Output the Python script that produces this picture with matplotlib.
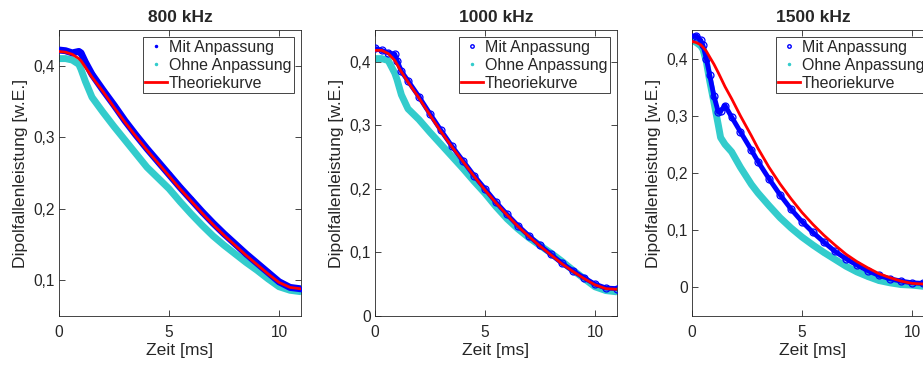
import matplotlib
matplotlib.use("Agg")
import matplotlib.pyplot as plt
from matplotlib.lines import Line2D
from matplotlib.ticker import FuncFormatter

plt.rcParams.update({
    "font.family": ["Liberation Sans", "DejaVu Sans"],
    "font.size": 12,
    "text.color": "#262626",
    "axes.labelcolor": "#262626",
    "xtick.color": "#262626",
    "ytick.color": "#262626",
})

# --- data (t in ms, power in arb. units) ---
titles = ["800 kHz", "1000 kHz", "1500 kHz"]

t_800 = [0, 0.3, 0.6, 0.9, 1.0, 1.2, 1.5, 2, 2.5, 3, 3.5, 4, 4.5, 5, 5.5, 6, 6.5, 7, 7.5, 8, 8.5, 9, 9.5, 10, 10.5, 11]
mit_800 = [0.422, 0.421, 0.418, 0.420, 0.418, 0.405, 0.388, 0.366, 0.345, 0.323, 0.303, 0.284, 0.266, 0.248, 0.230, 0.213, 0.196, 0.180, 0.165, 0.151, 0.137, 0.124, 0.111, 0.098, 0.090, 0.088]
ohne_800 = [0.410, 0.410, 0.408, 0.402, 0.395, 0.378, 0.356, 0.335, 0.315, 0.296, 0.277, 0.258, 0.243, 0.228, 0.210, 0.193, 0.177, 0.162, 0.149, 0.137, 0.125, 0.114, 0.102, 0.091, 0.086, 0.084]
theo_800 = [0.420, 0.419, 0.416, 0.410, 0.407, 0.398, 0.384, 0.364, 0.342, 0.321, 0.301, 0.282, 0.264, 0.246, 0.228, 0.211, 0.194, 0.178, 0.163, 0.149, 0.135, 0.122, 0.109, 0.097, 0.090, 0.088]

t_1000 = [0, 0.3, 0.6, 0.9, 1.0, 1.2, 1.5, 2, 2.5, 3, 3.5, 4, 4.5, 5, 5.5, 6, 6.5, 7, 7.5, 8, 8.5, 9, 9.5, 10, 10.5, 11]
mit_1000 = [0.421, 0.418, 0.414, 0.412, 0.402, 0.385, 0.370, 0.345, 0.318, 0.292, 0.267, 0.244, 0.221, 0.200, 0.179, 0.160, 0.142, 0.126, 0.111, 0.097, 0.083, 0.071, 0.060, 0.050, 0.044, 0.043]
ohne_1000 = [0.405, 0.405, 0.402, 0.382, 0.372, 0.348, 0.326, 0.309, 0.289, 0.270, 0.251, 0.232, 0.212, 0.193, 0.172, 0.153, 0.137, 0.123, 0.111, 0.099, 0.086, 0.072, 0.059, 0.046, 0.040, 0.038]
theo_1000 = [0.418, 0.418, 0.413, 0.402, 0.396, 0.384, 0.368, 0.343, 0.316, 0.290, 0.266, 0.243, 0.220, 0.198, 0.178, 0.159, 0.141, 0.125, 0.110, 0.096, 0.082, 0.070, 0.059, 0.049, 0.043, 0.042]

t_1500 = [0, 0.2, 0.4, 0.5, 0.65, 0.8, 1.0, 1.2, 1.3, 1.5, 1.8, 2.2, 2.7, 3, 3.5, 4, 4.5, 5, 5.5, 6, 6.5, 7, 7.5, 8, 8.5, 9, 9.5, 10, 10.5, 11]
mit_1500 = [0.438, 0.440, 0.432, 0.423, 0.400, 0.372, 0.334, 0.306, 0.308, 0.318, 0.298, 0.272, 0.240, 0.220, 0.190, 0.162, 0.137, 0.115, 0.096, 0.079, 0.063, 0.050, 0.039, 0.029, 0.021, 0.015, 0.011, 0.008, 0.007, 0.007]
ohne_1500 = [0.432, 0.428, 0.422, 0.416, 0.395, 0.362, 0.323, 0.283, 0.262, 0.250, 0.237, 0.210, 0.180, 0.165, 0.143, 0.122, 0.104, 0.088, 0.074, 0.061, 0.049, 0.037, 0.027, 0.019, 0.012, 0.008, 0.005, 0.004, 0.002, 0.001]
theo_1500 = [0.430, 0.428, 0.424, 0.420, 0.413, 0.403, 0.390, 0.375, 0.367, 0.351, 0.330, 0.300, 0.265, 0.243, 0.210, 0.181, 0.155, 0.131, 0.110, 0.091, 0.074, 0.058, 0.045, 0.034, 0.024, 0.017, 0.011, 0.007, 0.006, 0.006]

series = [
    (t_800, mit_800, ohne_800, theo_800, "."),
    (t_1000, mit_1000, ohne_1000, theo_1000, "o"),
    (t_1500, mit_1500, ohne_1500, theo_1500, "o"),
]
ylims = [(0.05, 0.45), (0.0, 0.45), (-0.05, 0.45)]
yticks = [[0.1, 0.2, 0.3, 0.4], [0, 0.1, 0.2, 0.3, 0.4], [0, 0.1, 0.2, 0.3, 0.4]]

BLUE = "#0000ff"
CYAN = "#33cccc"
RED = "#ff0000"

lefts = [59, 375, 692]
W, H = 923, 365

fig = plt.figure(figsize=(W / 100, H / 100), dpi=100)
comma = FuncFormatter(lambda v, p: ("%g" % round(v, 3)).replace(".", ","))

for i, (t, mit, ohne, theo, mk) in enumerate(series):
    ax = fig.add_axes([lefts[i] / W, 49 / H, 242 / W, 286 / H])
    ax.plot(t, ohne, color=CYAN, lw=5, solid_capstyle="butt", zorder=2)
    ax.plot(t, ohne, ".", color=CYAN, ms=5, zorder=2)
    if mk == "o":
        ax.plot(t, mit, color=BLUE, lw=3.5, solid_capstyle="butt", zorder=3)
        ax.plot(t, mit, "o", color=BLUE, ms=5, mfc="none", mew=0.9, zorder=3)
    else:
        ax.plot(t, mit, color=BLUE, lw=5, solid_capstyle="butt", zorder=3)
        ax.plot(t, mit, ".", color=BLUE, ms=6, zorder=3)
    ax.plot(t, theo, color=RED, lw=2, zorder=4)

    ax.set_xlim(0, 11)
    ax.set_ylim(*ylims[i])
    ax.set_xticks([0, 5, 10])
    ax.set_yticks(yticks[i])
    ax.yaxis.set_major_formatter(comma)
    ax.tick_params(direction="in", top=True, right=True, length=4,
                   width=0.6, labelsize=11.2)
    ax.tick_params(axis="x", pad=6.5)
    ax.tick_params(axis="y", pad=3)
    for s in ax.spines.values():
        s.set_color("#262626")
        s.set_linewidth(0.6)
    ax.set_title(titles[i], fontweight="bold", fontsize=12.5, pad=6)
    ax.set_xlabel("Zeit [ms]", fontsize=12.6, labelpad=2)
    ax.set_ylabel("Dipolfallenleistung [w.E.]", fontsize=12.6, labelpad=4)

    handles = [
        Line2D([], [], ls="none", marker=mk, color=BLUE, ms=3 if mk == "." else 2.5,
               mfc=BLUE if mk == "." else "none"),
        Line2D([], [], ls="none", marker=".", color=CYAN, ms=3),
        Line2D([], [], color=RED, lw=2),
    ]
    leg = ax.legend(handles, ["Mit Anpassung", "Ohne Anpassung", "Theoriekurve"],
                    loc="upper right", fontsize=11.5, frameon=True, fancybox=False,
                    edgecolor="#262626", framealpha=1, borderpad=0.15,
                    labelspacing=0.2, handlelength=1.4, handletextpad=0.1,
                    borderaxespad=0.45)
    leg.get_frame().set_linewidth(0.6)

fig.savefig("out.png", dpi=100)
